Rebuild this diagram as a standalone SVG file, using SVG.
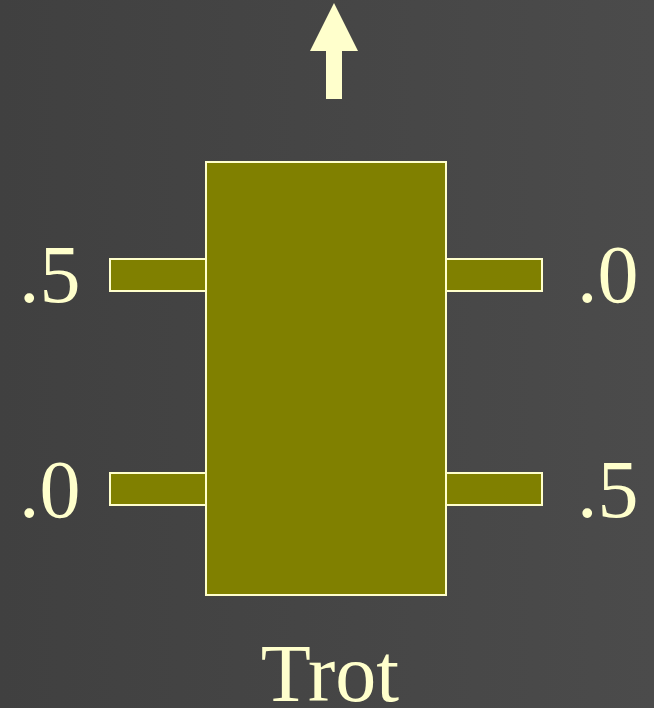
<svg xmlns="http://www.w3.org/2000/svg" width="654" height="708" viewBox="0 0 654 708">
<defs>
<linearGradient id="bg" x1="0" y1="0" x2="1" y2="0">
<stop offset="0" stop-color="#404040"/>
<stop offset="1" stop-color="#4b4b4b"/>
</linearGradient>
<style>
.blk{fill:#808000;stroke:#FFFFCC;stroke-width:2}
.lbl{font-family:"Liberation Serif","Times New Roman",serif;font-size:82px;fill:#FFFFCC}
</style>
</defs>
<rect x="0" y="0" width="654" height="708" fill="url(#bg)"/>
<g id="arrow">
<polygon points="334,3 358,51 342,51 342,99 326,99 326,51 310,51" fill="#FFFFCC"/>
</g>
<g id="ports">
<rect class="blk" x="110" y="259" width="96" height="32"/>
<rect class="blk" x="446" y="259" width="96" height="32"/>
<rect class="blk" x="110" y="473" width="96" height="32"/>
<rect class="blk" x="446" y="473" width="96" height="32"/>
</g>
<g id="box">
<rect class="blk" x="206" y="162" width="240" height="433"/>
</g>
<g id="labels">
<text class="lbl" x="19" y="302">.5</text>
<text class="lbl" x="577" y="302">.0</text>
<text class="lbl" x="19" y="517">.0</text>
<text class="lbl" x="577" y="517">.5</text>
<text class="lbl" x="330" y="701" text-anchor="middle">Trot</text>
</g>
</svg>
